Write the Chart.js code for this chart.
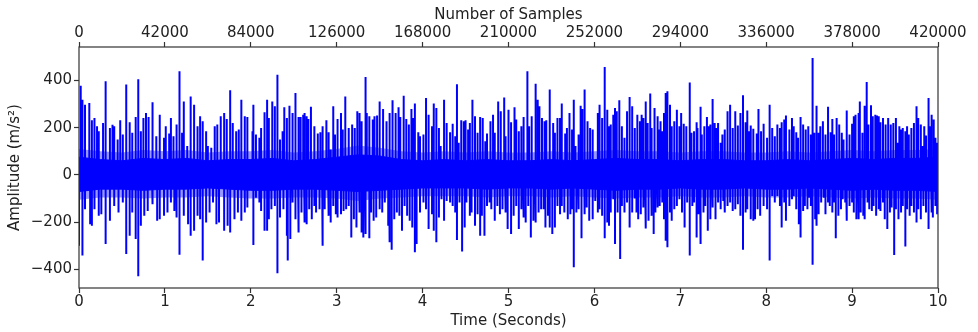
<!DOCTYPE html>
<html><head><meta charset="utf-8">
<script src="https://cdn.jsdelivr.net/npm/chart.js@4/dist/chart.umd.min.js"></script>
<style>html,body{margin:0;padding:0;background:#fff;overflow:hidden}canvas{display:block}</style>
</head><body>
<canvas id="c" width="978" height="332"></canvas>
<script>
// ---- Data ----
const timeTicks = [0,1,2,3,4,5,6,7,8,9,10];
const sampleTicks = [0,42000,84000,126000,168000,210000,252000,294000,336000,378000,420000];
const amplitudeTicks = [-400,-200,0,200,400];

// Positive spikes [time (s), amplitude]
const positiveSpikes = [
[0.02,377],[0.04,318],[0.07,297],[0.12,304],[0.15,231],[0.18,241],[0.21,206],[0.23,185],[0.28,220],[0.31,396],
[0.36,199],[0.39,212],[0.41,206],[0.45,150],[0.48,231],[0.51,171],[0.55,382],[0.59,223],[0.62,178],[0.66,245],
[0.69,405],[0.72,185],[0.75,241],[0.78,262],[0.81,245],[0.85,307],[0.90,164],[0.94,255],[0.99,157],[1.01,206],
[1.05,175],[1.07,241],[1.10,164],[1.13,213],[1.17,438],[1.20,178],[1.22,311],[1.26,122],[1.30,332],[1.34,297],
[1.38,206],[1.41,248],[1.44,227],[1.48,185],[1.50,122],[1.54,115],[1.58,206],[1.61,213],[1.65,248],[1.69,262],
[1.72,237],[1.76,358],[1.79,220],[1.83,185],[1.86,192],[1.89,318],[1.93,248],[1.96,245],
[2.02,185],[2.03,297],[2.06,171],[2.10,157],[2.12,199],[2.16,265],[2.19,318],[2.21,241],[2.25,311],[2.28,290],
[2.31,424],[2.34,150],[2.37,185],[2.39,286],[2.42,241],[2.45,293],[2.48,262],[2.52,347],[2.55,245],[2.58,245],
[2.61,255],[2.63,262],[2.65,248],[2.67,237],[2.70,288],[2.74,206],[2.78,175],[2.81,181],[2.84,206],[2.88,231],
[2.91,181],[2.93,108],[2.96,290],[2.98,171],[3.01,237],[3.05,262],[3.07,192],[3.10,332],[3.14,199],[3.18,213],
[3.21,199],[3.24,269],[3.27,262],[3.29,227],[3.33,414],[3.35,262],[3.38,248],[3.42,234],[3.44,248],[3.47,251],
[3.50,311],[3.54,279],[3.58,227],[3.61,262],[3.65,316],[3.68,217],[3.69,262],[3.72,286],[3.74,245],[3.78,335],
[3.81,237],[3.84,213],[3.87,279],[3.89,241],[3.91,302],[3.95,181],[3.97,164],
[4.01,171],[4.04,325],[4.07,255],[4.11,206],[4.13,302],[4.16,283],[4.19,199],[4.21,122],[4.25,318],[4.28,220],
[4.32,181],[4.35,217],[4.38,164],[4.40,384],[4.42,136],[4.45,231],[4.48,227],[4.50,231],[4.53,192],[4.55,220],
[4.58,318],[4.61,248],[4.64,178],[4.67,245],[4.70,241],[4.73,143],[4.75,175],[4.79,227],[4.82,255],[4.84,178],
[4.88,311],[4.91,269],[4.95,328],[4.97,164],[5.00,276],[5.03,223],[5.07,286],[5.09,234],[5.12,185],[5.15,206],
[5.18,245],[5.22,438],[5.24,206],[5.27,248],[5.31,386],[5.34,318],[5.36,290],[5.39,241],[5.42,227],[5.44,231],
[5.48,361],[5.52,220],[5.54,178],[5.57,241],[5.60,241],[5.62,302],[5.66,175],[5.68,199],[5.71,262],[5.74,192],
[5.76,318],[5.78,122],[5.81,171],[5.84,293],[5.86,279],[5.89,361],[5.92,227],[5.95,199],[5.98,192],
[6.04,262],[6.06,297],[6.09,241],[6.12,456],[6.15,276],[6.17,206],[6.19,213],[6.22,255],[6.24,283],[6.26,269],
[6.29,316],[6.32,206],[6.35,157],[6.38,269],[6.41,330],[6.44,290],[6.47,199],[6.50,255],[6.53,227],[6.55,255],
[6.57,241],[6.60,311],[6.62,220],[6.65,344],[6.67,199],[6.70,283],[6.73,248],[6.75,192],[6.77,227],[6.79,185],
[6.81,262],[6.83,347],[6.85,354],[6.88,297],[6.90,206],[6.93,227],[6.96,276],[6.99,206],[7.01,262],[7.04,217],
[7.07,206],[7.11,391],[7.13,178],[7.16,185],[7.19,223],[7.20,199],[7.23,288],[7.25,171],[7.28,206],[7.31,245],
[7.33,206],[7.35,213],[7.37,321],[7.40,220],[7.42,199],[7.44,220],[7.47,136],[7.49,171],[7.51,192],[7.52,157],
[7.55,269],[7.58,297],[7.61,199],[7.64,269],[7.67,209],[7.70,262],[7.73,337],[7.76,223],[7.78,272],[7.80,185],
[7.82,209],[7.85,195],[7.89,175],[7.91,279],[7.94,185],[7.97,217],
[8.01,157],[8.04,297],[8.07,199],[8.10,164],[8.13,213],[8.16,199],[8.18,223],[8.21,234],[8.23,251],[8.27,192],
[8.30,241],[8.32,206],[8.35,181],[8.37,157],[8.40,245],[8.43,213],[8.46,192],[8.49,206],[8.52,171],[8.54,494],
[8.56,178],[8.58,293],[8.61,178],[8.63,206],[8.66,227],[8.69,171],[8.72,288],[8.75,181],[8.77,237],[8.79,171],
[8.82,241],[8.85,213],[8.88,178],[8.90,150],[8.93,164],[8.94,272],[8.97,171],[9.00,217],[9.02,248],[9.04,255],
[9.07,262],[9.09,311],[9.12,178],[9.14,293],[9.17,393],[9.19,213],[9.22,295],[9.24,248],[9.27,255],[9.29,251],
[9.31,248],[9.33,223],[9.36,241],[9.39,213],[9.42,241],[9.45,213],[9.48,220],[9.51,241],[9.53,136],[9.55,206],
[9.57,192],[9.59,199],[9.62,185],[9.64,206],[9.66,171],[9.69,199],[9.72,220],[9.75,290],[9.77,241],[9.80,213],
[9.82,122],[9.84,206],[9.86,167],[9.89,325],[9.91,206],[9.93,255],[9.95,234],[9.97,157],[9.99,136]
];

// Negative spikes [time (s), amplitude]
const negativeSpikes = [
[0.00,-299],[0.04,-341],[0.07,-145],[0.13,-208],[0.15,-215],[0.18,-145],[0.23,-173],[0.26,-166],[0.31,-292],[0.36,-194],
[0.41,-131],[0.46,-159],[0.51,-117],[0.55,-334],[0.59,-257],[0.62,-159],[0.66,-271],[0.69,-428],[0.72,-215],[0.76,-173],
[0.80,-152],[0.86,-124],[0.91,-194],[0.94,-187],[0.99,-173],[1.03,-159],[1.07,-117],[1.11,-152],[1.14,-180],[1.17,-337],
[1.22,-173],[1.27,-208],[1.30,-257],[1.34,-236],[1.38,-173],[1.41,-187],[1.44,-362],[1.48,-201],[1.52,-159],[1.56,-117],
[1.60,-208],[1.63,-201],[1.69,-236],[1.73,-215],[1.76,-243],[1.81,-187],[1.85,-159],[1.89,-194],[1.93,-159],[1.96,-138],
[2.03,-296],[2.06,-96],[2.10,-117],[2.12,-152],[2.16,-236],[2.19,-236],[2.21,-187],[2.24,-145],[2.28,-131],[2.31,-416],
[2.34,-180],[2.38,-145],[2.42,-257],[2.43,-362],[2.46,-271],[2.49,-117],[2.52,-187],[2.56,-243],[2.59,-159],[2.62,-201],
[2.65,-208],[2.68,-145],[2.71,-187],[2.74,-131],[2.76,-159],[2.80,-145],[2.83,-299],[2.86,-145],[2.90,-173],[2.93,-201],
[2.96,-131],[2.99,-166],[3.01,-180],[3.05,-166],[3.08,-152],[3.11,-145],[3.14,-131],[3.17,-264],[3.20,-187],[3.23,-222],
[3.26,-159],[3.29,-243],[3.31,-264],[3.34,-250],[3.38,-268],[3.40,-159],[3.43,-194],[3.46,-180],[3.50,-145],[3.53,-159],
[3.56,-117],[3.60,-215],[3.62,-285],[3.64,-316],[3.67,-187],[3.70,-159],[3.73,-173],[3.76,-236],[3.79,-131],[3.82,-173],
[3.85,-194],[3.88,-222],[3.91,-327],[3.93,-292],[3.97,-159],
[4.01,-117],[4.04,-145],[4.07,-229],[4.11,-166],[4.13,-236],[4.16,-285],[4.19,-180],[4.22,-103],[4.25,-194],[4.28,-110],
[4.32,-117],[4.35,-131],[4.38,-159],[4.40,-275],[4.43,-117],[4.46,-324],[4.49,-222],[4.51,-117],[4.55,-173],[4.57,-159],
[4.61,-215],[4.64,-166],[4.67,-257],[4.69,-173],[4.72,-257],[4.75,-131],[4.78,-117],[4.80,-145],[4.84,-194],[4.87,-131],
[4.90,-166],[4.93,-145],[4.96,-159],[4.99,-229],[5.03,-250],[5.06,-173],[5.09,-131],[5.12,-229],[5.15,-145],[5.17,-180],
[5.20,-201],[5.23,-131],[5.26,-264],[5.29,-194],[5.32,-201],[5.35,-159],[5.38,-145],[5.41,-145],[5.43,-222],[5.46,-173],
[5.48,-222],[5.51,-250],[5.54,-222],[5.57,-131],[5.60,-166],[5.62,-131],[5.65,-159],[5.69,-187],[5.72,-166],[5.74,-145],
[5.76,-390],[5.79,-159],[5.82,-145],[5.85,-268],[5.88,-166],[5.91,-138],[5.94,-194],[5.98,-187],
[6.01,-110],[6.04,-159],[6.06,-145],[6.09,-173],[6.12,-268],[6.15,-201],[6.17,-215],[6.19,-159],[6.22,-103],[6.24,-292],
[6.27,-159],[6.30,-355],[6.32,-131],[6.35,-159],[6.38,-117],[6.41,-222],[6.44,-159],[6.47,-100],[6.49,-159],[6.51,-187],
[6.54,-166],[6.57,-138],[6.59,-159],[6.60,-226],[6.63,-194],[6.66,-173],[6.69,-250],[6.71,-159],[6.74,-138],[6.76,-131],
[6.79,-117],[6.81,-187],[6.83,-278],[6.85,-306],[6.88,-159],[6.90,-194],[6.93,-145],[6.96,-131],[6.99,-103],[7.02,-159],
[7.05,-222],[7.08,-117],[7.11,-341],[7.14,-131],[7.16,-117],[7.19,-264],[7.21,-166],[7.24,-292],[7.27,-159],[7.29,-131],
[7.32,-236],[7.35,-187],[7.38,-138],[7.41,-187],[7.44,-117],[7.47,-145],[7.50,-110],[7.52,-159],[7.55,-131],[7.58,-117],
[7.61,-152],[7.64,-145],[7.67,-124],[7.70,-173],[7.73,-316],[7.76,-159],[7.78,-145],[7.82,-187],[7.85,-194],[7.87,-187],
[7.90,-145],[7.93,-173],[7.97,-131],
[8.01,-145],[8.04,-362],[8.07,-89],[8.10,-117],[8.13,-89],[8.16,-131],[8.18,-222],[8.21,-117],[8.23,-194],[8.27,-131],
[8.30,-103],[8.32,-89],[8.35,-145],[8.38,-208],[8.40,-264],[8.43,-152],[8.45,-131],[8.48,-145],[8.50,-96],[8.52,-131],
[8.54,-380],[8.57,-187],[8.59,-215],[8.61,-166],[8.64,-117],[8.67,-96],[8.69,-166],[8.72,-117],[8.74,-131],[8.77,-159],
[8.79,-117],[8.81,-268],[8.84,-173],[8.87,-145],[8.89,-103],[8.92,-117],[8.94,-194],[8.97,-131],[9.00,-117],[9.02,-159],
[9.05,-187],[9.08,-187],[9.10,-159],[9.13,-173],[9.15,-187],[9.18,-117],[9.20,-145],[9.23,-152],[9.25,-131],[9.28,-173],
[9.31,-145],[9.33,-152],[9.36,-117],[9.38,-187],[9.41,-229],[9.44,-159],[9.46,-138],[9.49,-338],[9.51,-145],[9.54,-187],
[9.57,-159],[9.59,-131],[9.62,-303],[9.64,-145],[9.67,-173],[9.69,-131],[9.72,-159],[9.75,-201],[9.77,-145],[9.80,-187],
[9.83,-131],[9.86,-159],[9.89,-229],[9.92,-159],[9.94,-180],[9.97,-131],[9.99,-166]
];

// Dense noise band envelopes (every 0.25 s): solid core and lighter outer haze
const bandTimes = [0,0.25,0.5,0.75,1,1.25,1.5,1.75,2,2.25,2.5,2.75,3,3.25,3.5,3.75,4,4.25,4.5,4.75,5,5.25,5.5,5.75,6,6.25,6.5,6.75,7,7.25,7.5,7.75,8,8.25,8.5,8.75,9,9.25,9.5,9.75,10];
const bandUpper = [75,65,60,70,65,70,60,65,65,70,60,65,75,85,80,65,60,65,60,65,60,60,65,60,65,70,65,65,60,65,65,60,60,65,60,65,70,65,70,70,75];
const bandLower = [-70,-60,-60,-65,-60,-60,-55,-60,-65,-65,-60,-60,-65,-70,-65,-60,-55,-55,-55,-60,-55,-55,-60,-55,-60,-65,-60,-60,-55,-60,-60,-55,-60,-60,-55,-60,-65,-60,-65,-65,-70];
const hazeUpper = [110,100,95,105,100,105,95,100,100,105,95,100,110,125,115,100,95,100,95,100,95,95,100,95,100,105,100,100,95,100,100,95,95,100,95,100,105,100,105,105,110];
const hazeLower = [-105,-95,-95,-100,-95,-95,-90,-95,-100,-100,-95,-95,-100,-110,-100,-95,-90,-90,-90,-95,-90,-90,-95,-90,-95,-100,-95,-95,-90,-95,-95,-90,-95,-95,-90,-95,-100,-95,-100,-100,-105];

// ---- Build chart ----
const BLUE = '#0000ff';
const HAZE = 'rgba(0,0,255,0.4)';
const FONT = {family: 'DejaVu Sans', size: 15};
const TXT = '#222';

const spikes = positiveSpikes.concat(negativeSpikes).sort((a,b)=>a[0]-b[0]);
const spikePoints = [];
spikes.forEach(([t,v]) => { spikePoints.push({x:t,y:0},{x:t,y:v},{x:t,y:0}); });
const pts = arr => bandTimes.map((t,i)=>({x:t,y:arr[i]}));

const fmt = v => v < 0 ? '\u2212' + Math.abs(v) : String(v);
const setTicks = arr => scale => { scale.ticks = arr.map(v=>({value:v})); };

const frame = {
  id: 'frame',
  afterDatasetsDraw(chart) {
    const {ctx, chartArea: a} = chart;
    ctx.save();
    ctx.strokeStyle = '#333';
    ctx.lineWidth = 1.2;
    ctx.strokeRect(a.left, a.top, a.right - a.left, a.bottom - a.top);
    ctx.restore();
  }
};

const lineBase = {pointRadius: 0, tension: 0, xAxisID: 'x', yAxisID: 'y'};

new Chart(document.getElementById('c'), {
  type: 'line',
  data: {
    datasets: [
      Object.assign({data: spikePoints, borderColor: BLUE, borderWidth: 2, fill: false, order: 0}, lineBase),
      Object.assign({data: pts(bandUpper), borderColor: BLUE, backgroundColor: BLUE, borderWidth: 1, fill: '+1', order: 1}, lineBase),
      Object.assign({data: pts(bandLower), borderColor: BLUE, borderWidth: 1, fill: false, order: 1}, lineBase),
      Object.assign({data: pts(hazeUpper), borderColor: 'rgba(0,0,0,0)', backgroundColor: HAZE, borderWidth: 0, fill: '+1', order: 2}, lineBase),
      Object.assign({data: pts(hazeLower), borderColor: 'rgba(0,0,0,0)', borderWidth: 0, fill: false, order: 2}, lineBase)
    ]
  },
  options: {
    responsive: false,
    animation: false,
    events: [],
    devicePixelRatio: 1,
    layout: {padding: {left: 0, right: 40, top: 0, bottom: 0}},
    plugins: {legend: {display: false}, tooltip: {enabled: false}},
    scales: {
      x: {
        type: 'linear', position: 'bottom', min: 0, max: 10,
        afterBuildTicks: setTicks(timeTicks),
        afterFit: s => { s.height = 44; },
        ticks: {font: FONT, color: TXT, padding: 0, maxRotation: 0, autoSkip: false, callback: fmt},
        grid: {drawOnChartArea: false, drawTicks: true, tickLength: 5, tickColor: '#333', tickWidth: 1.2},
        border: {display: false},
        title: {display: true, text: 'Time (Seconds)', font: FONT, color: TXT, padding: {top: 0, bottom: 2}}
      },
      x2: {
        type: 'linear', position: 'top', min: 0, max: 420000,
        afterBuildTicks: setTicks(sampleTicks),
        afterFit: s => { s.height = 47; },
        ticks: {font: FONT, color: TXT, padding: 0, maxRotation: 0, autoSkip: false, callback: v => String(v)},
        grid: {drawOnChartArea: false, drawTicks: true, tickLength: 5, tickColor: '#333', tickWidth: 1.2},
        border: {display: false},
        title: {display: true, text: 'Number of Samples', font: FONT, color: TXT, padding: {top: 6, bottom: 0}}
      },
      y: {
        type: 'linear', position: 'left', min: -478, max: 541,
        afterBuildTicks: setTicks(amplitudeTicks),
        afterFit: s => { s.width = 79; },
        ticks: {font: FONT, color: TXT, padding: 2, autoSkip: false, callback: fmt},
        grid: {drawOnChartArea: false, drawTicks: true, tickLength: 5, tickColor: '#333', tickWidth: 1.2},
        border: {display: false},
        title: {display: true, text: 'Amplitude (m/s\u00B2)', font: FONT, color: TXT, padding: {top: 6, bottom: 0}}
      }
    }
  },
  plugins: [frame]
});
</script>
</body></html>
